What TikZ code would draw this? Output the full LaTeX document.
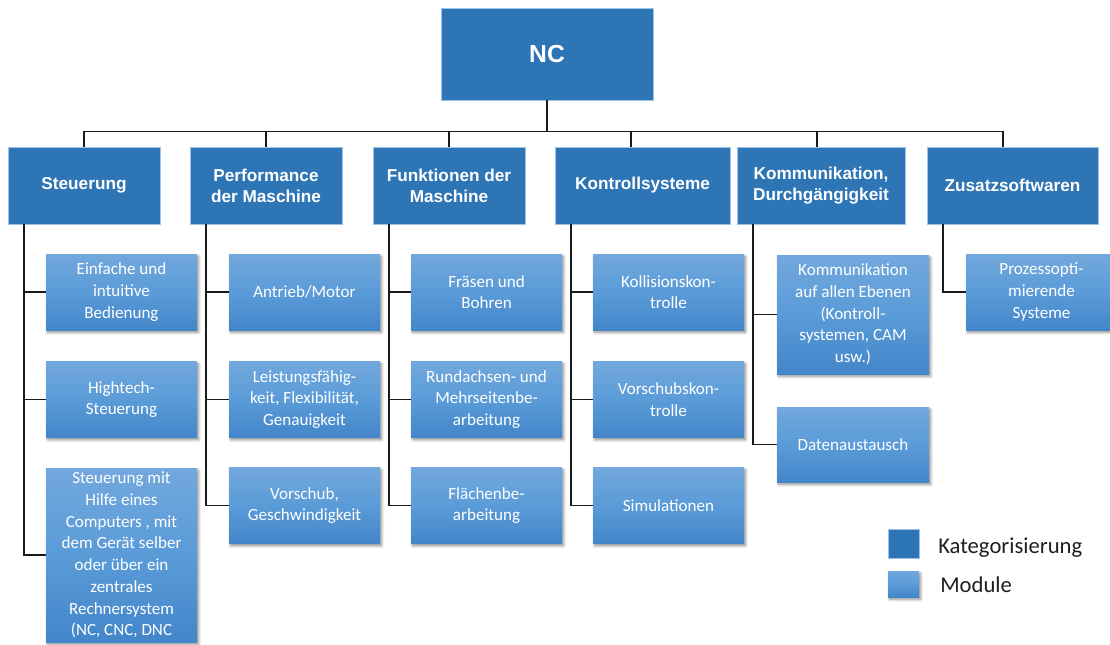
\documentclass[tikz,border=0pt]{standalone}
\usepackage{fontspec}
\setmainfont{Carlito}
\newfontfamily\arialfont{Liberation Sans}
\usetikzlibrary{shadows.blur}

\definecolor{catblue}{HTML}{2E75B6}
\definecolor{catedge}{HTML}{9DC3E6}
\definecolor{modtop}{HTML}{72A8DD}
\definecolor{modmid}{HTML}{5A9BD8}
\definecolor{modbot}{HTML}{4386C9}
\definecolor{wirecol}{HTML}{1A1A1A}
\definecolor{legtext}{HTML}{1F1F1F}

\tikzset{
  cat/.style={fill=catblue, draw=catedge, line width=0.3pt, text=white,
    font=\arialfont\bfseries\fontsize{12.9}{15.8}\selectfont,
    align=center, inner sep=0pt, minimum width=114pt, minimum height=57.75pt},
  mod/.style={top color=modtop, bottom color=modbot, middle color=modmid,
    text=white, font=\fontsize{12.8}{16.3}\selectfont,
    align=center, inner sep=0pt, minimum width=113.25pt, minimum height=57pt,
    blur shadow={shadow xshift=1.2pt, shadow yshift=-1.8pt,
      shadow blur steps=6, shadow blur radius=2pt, shadow opacity=45}},
  wire/.style={draw=wirecol, line width=1.3pt},
  legend/.style={text=legtext, font=\fontsize{17}{20}\selectfont,
    inner sep=0pt, anchor=base west},
}

\begin{document}
\begin{tikzpicture}[x=0.75pt, y=-0.75pt]
  \useasboundingbox (0,0) rectangle (1110,644);
  \clip (0,0) rectangle (1110,644);

  % root
  \node[cat, minimum width=159pt, minimum height=69pt,
        font=\arialfont\bfseries\fontsize{18.5}{22}\selectfont] (nc) at (547,54) {NC};

  % categories
  \node[cat] (c1) at (84,185.5) {Steuerung};
  \node[cat] (c2) at (266,185.5) {Performance\\der Maschine};
  \node[cat] (c3) at (449,185.5) {Funktionen der\\Maschine};
  \node[cat, minimum width=131.25pt] (c4) at (642.5,185.5) {Kontrollsysteme};
  \node[cat, minimum width=126pt] (c5) at (821,185.5) {Kommunikation,\\Durchgängigkeit};
  \node[cat, minimum width=128.25pt] (c6) at (1012.5,185.5) {Zusatzsoftwaren};

  % tree from the root to the categories
  \coordinate (bus) at (547,131.5);
  \draw[wire] (nc.south) -- (bus);
  \draw[wire] (c1.north) |- (bus);
  \draw[wire] (c2.north) |- (bus);
  \draw[wire] (c3.north) |- (bus);
  \draw[wire] ([xshift=-8.6pt]c4.north) |- (bus);
  \draw[wire] ([xshift=-3pt]c5.north) |- (bus);
  \draw[wire] ([xshift=-7.1pt]c6.north) |- (bus);

  % modules: Steuerung
  \node[mod] (m11) at (121.5,292) {Einfache und\\intuitive\\Bedienung};
  \node[mod] (m12) at (121.5,399.5) {Hightech-\\Steuerung};
  \node[mod, minimum height=130.5pt] (m13) at (121.5,555)
    {Steuerung mit\\Hilfe eines\\Computers , mit\\dem Gerät selber\\oder über ein\\zentrales\\Rechnersystem\\(NC, CNC, DNC};

  % modules: Performance der Maschine
  \node[mod] (m21) at (304.5,292) {Antrieb/Motor};
  \node[mod] (m22) at (304.5,399.5) {Leistungsfähig-\\keit, Flexibilität,\\Genauigkeit};
  \node[mod] (m23) at (304.5,505.5) {Vorschub,\\Geschwindigkeit};

  % modules: Funktionen der Maschine
  \node[mod] (m31) at (486.5,292) {Fräsen und\\Bohren};
  \node[mod] (m32) at (486.5,399.5) {Rundachsen- und\\Mehrseitenbe-\\arbeitung};
  \node[mod] (m33) at (486.5,505.5) {Flächenbe-\\arbeitung};

  % modules: Kontrollsysteme
  \node[mod] (m41) at (668.5,292) {Kollisionskon-\\trolle};
  \node[mod] (m42) at (668.5,399.5) {Vorschubskon-\\trolle};
  \node[mod] (m43) at (668.5,505.5) {Simulationen};

  % modules: Kommunikation, Durchgängigkeit
  \node[mod, minimum width=114pt, minimum height=89.25pt] (m51) at (853,314.5)
    {Kommunikation\\auf allen Ebenen\\(Kontroll-\\systemen, CAM\\usw.)};
  \node[mod, minimum width=114pt, minimum height=56.25pt] (m52) at (853,444.5) {Datenaustausch};

  % modules: Zusatzsoftwaren
  \node[mod] (m61) at (1041.5,292) {Prozessopti-\\mierende\\Systeme};

  % trunks below the categories
  \coordinate (t1) at ([xshift=12pt]c1.south west);
  \coordinate (t2) at ([xshift=12pt]c2.south west);
  \coordinate (t3) at ([xshift=12pt]c3.south west);
  \coordinate (t4) at ([xshift=12pt]c4.south west);
  \coordinate (t5) at ([xshift=12pt]c5.south west);
  \coordinate (t6) at ([xshift=12pt]c6.south west);

  \draw[wire] (t1) |- (m13.west);
  \draw[wire] (t1 |- m11.west) -- (m11.west);
  \draw[wire] (t1 |- m12.west) -- (m12.west);

  \draw[wire] (t2) |- (m23.west);
  \draw[wire] (t2 |- m21.west) -- (m21.west);
  \draw[wire] (t2 |- m22.west) -- (m22.west);

  \draw[wire] (t3) |- (m33.west);
  \draw[wire] (t3 |- m31.west) -- (m31.west);
  \draw[wire] (t3 |- m32.west) -- (m32.west);

  \draw[wire] (t4) |- (m43.west);
  \draw[wire] (t4 |- m41.west) -- (m41.west);
  \draw[wire] (t4 |- m42.west) -- (m42.west);

  \draw[wire] (t5) |- (m52.west);
  \draw[wire] (t5 |- m51.west) -- (m51.west);

  \draw[wire] (t6) |- (m61.west);

  % legend
  \node[fill=catblue, draw=catedge, line width=0.3pt, inner sep=0pt,
        minimum width=23.25pt, minimum height=21.75pt] (lcat) at (903.5,543.5) {};
  \node[mod, minimum width=23.25pt, minimum height=19.5pt] (lmod) at (903.5,584) {};
  \node[legend] (lcattext) at (938,553) {Kategorisierung};
  \node[legend] (lmodtext) at (940,592) {Module};
\end{tikzpicture}
\end{document}
